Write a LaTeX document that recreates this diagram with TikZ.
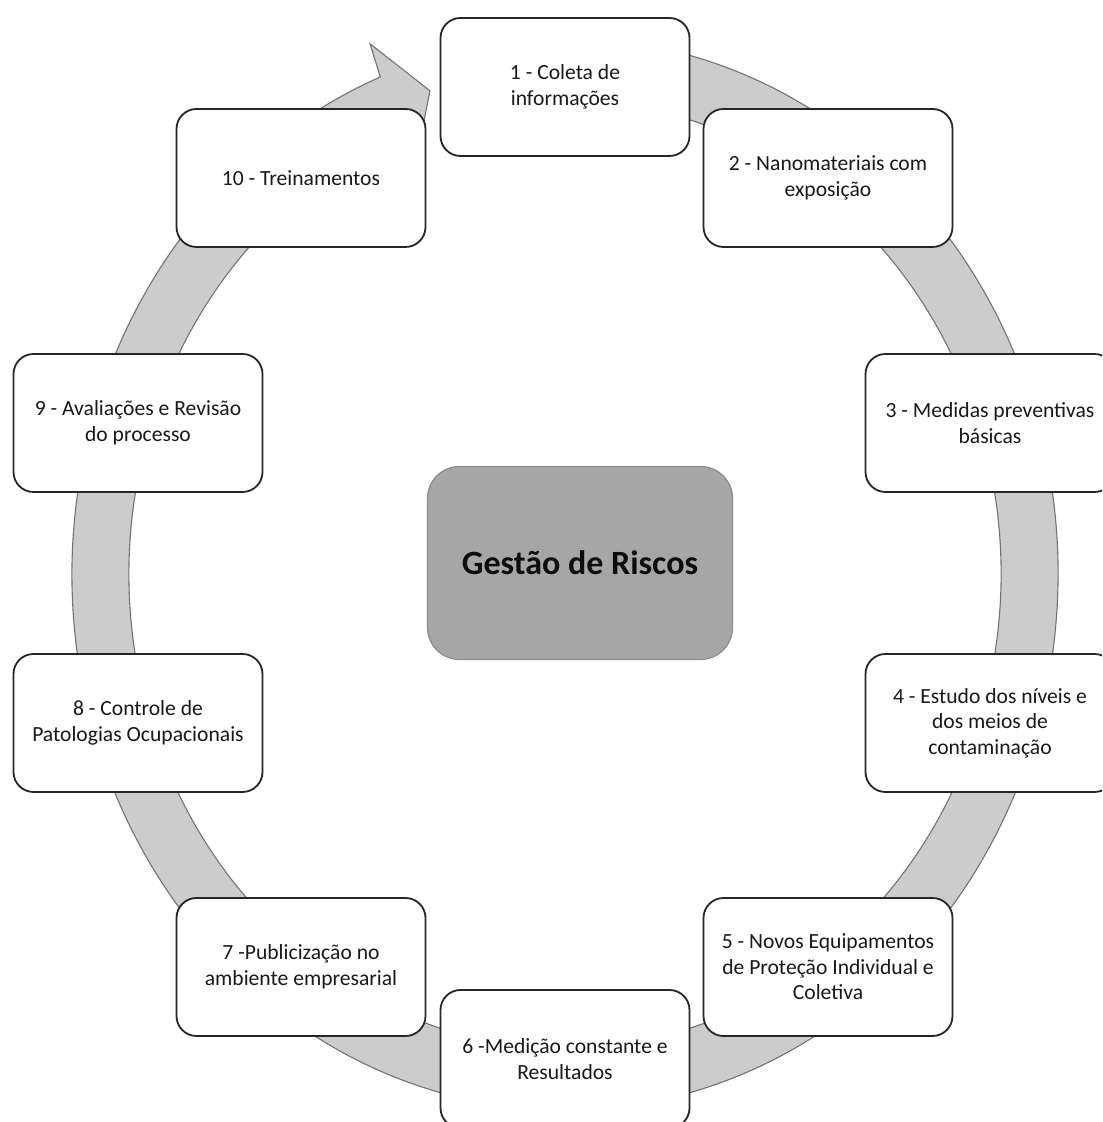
\documentclass[tikz,border=0pt]{standalone}
\usepackage{fontspec}
\setmainfont{Carlito}
\usetikzlibrary{calc}
\begin{document}
\begin{tikzpicture}[x=0.5pt,y=0.5pt,
  stepbox/.style={draw=black!85, line width=0.9pt, fill=white, rounded corners=10pt,
    minimum width=124.5pt, minimum height=69pt, align=center, text=black!90,
    font=\fontsize{10.8pt}{12.8pt}\selectfont, inner sep=2pt},
  hubbox/.style={draw=black!45, line width=0.6pt, fill=black!35, rounded corners=16pt,
    minimum width=152.5pt, minimum height=96.5pt, align=center, text=black!95,
    font=\fontsize{17pt}{20pt}\selectfont\bfseries},
  ring/.style={fill=black!20, draw=black!55, line width=0.55pt, line join=miter}]

% page frame
\useasboundingbox (0,0) rectangle (1102,1122);
\clip (0,0) rectangle (1102,1122);
\fill[white] (0,0) rectangle (1102,1122);

% ring centre
\coordinate (C) at (565,548);

% circular arrow band, running clockwise and ending in a head near step 1
\path[ring]
  ($(C)+({493*cos(80)},{536*sin(80)})$)
  arc[start angle=80, end angle=-248, x radius=493, y radius=536]
  -- ($(C)+({525*cos(-248.2)},{571*sin(-248.2)})$)
  -- ($(C)+({464.5*cos(-253.1)},{505*sin(-253.1)})$)
  -- ($(C)+({404*cos(-248.2)},{439*sin(-248.2)})$)
  -- ($(C)+({436*cos(-248)},{474*sin(-248)})$)
  arc[start angle=-248, end angle=80, x radius=436, y radius=474]
  -- cycle;

% steps of the cycle
\node[stepbox] (s1)  at (565,1035) {1 - Coleta de\\informações};
\node[stepbox] (s2)  at (828,944)  {2 - Nanomateriais com\\exposição};
\node[stepbox] (s3)  at (990,699)  {3 - Medidas preventivas\\básicas};
\node[stepbox] (s4)  at (990,399)  {4 - Estudo dos níveis e\\dos meios de\\contaminação};
\node[stepbox] (s5)  at (828,155)  {5 - Novos Equipamentos\\de Proteção Individual e\\Coletiva};
\node[stepbox] (s6)  at (565,63)   {6 -Medição constante e\\Resultados};
\node[stepbox] (s7)  at (301,155)  {7 -Publicização no\\ambiente empresarial};
\node[stepbox] (s8)  at (138,399)  {8 - Controle de\\Patologias Ocupacionais};
\node[stepbox] (s9)  at (138,699)  {9 - Avaliações e Revisão\\do processo};
\node[stepbox] (s10) at (301,944)  {10 - Treinamentos};

% hub
\node[hubbox] (hub) at (580,559) {Gestão de Riscos};
\end{tikzpicture}
\end{document}
